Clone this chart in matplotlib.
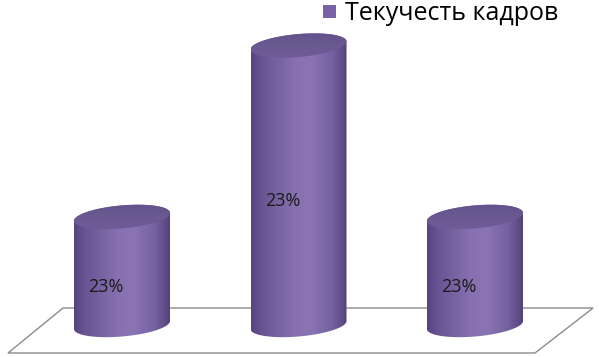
#!/usr/bin/env python3
# plot.py
# Purpose: 3D-style cylinder column chart, "Текучесть кадров".

import numpy as np
import matplotlib
matplotlib.use("Agg")
import matplotlib.pyplot as plt
from matplotlib.colors import LinearSegmentedColormap
from matplotlib.patches import Polygon

# Data
categories = ["1", "2", "3"]
heights = [9.4, 24.3, 9.4]          # column heights (chart units)
labels = ["23%", "23%", "23%"]     # data labels shown on the columns
series_name = "Текучесть кадров"

FONT = ["Open Sans", "DejaVu Sans"]

# pixel scale of the chart units
px_x = 176.5   # pixels per category step
px_y = 11.5    # pixels per value unit

fig = plt.figure(figsize=(5.99, 3.57), dpi=100)
ax = fig.add_axes([0, 0, 1, 1])
ax.axis("off")

# Floor (parallelogram)
n = len(categories)
back_y, front_y = 17 / px_y, -28 / px_y
floor = Polygon([(-0.646, front_y), (-0.334, back_y), (n - 1 + 0.669, back_y),
                 (n - 1 + 0.340, front_y)], closed=True,
                facecolor="white", edgecolor="#8c8c8c", lw=1.0, zorder=1)
ax.add_patch(floor)

body_cmap = LinearSegmentedColormap.from_list("body", [
    (0.0, "#56447e"), (0.12, "#6a5594"), (0.45, "#8670b0"),
    (0.62, "#8a74b4"), (0.85, "#7560a0"), (1.0, "#54427c")])
cap_cmap = LinearSegmentedColormap.from_list("cap", [
    (0.0, "#5f4d88"), (0.5, "#6b5992"), (1.0, "#735f9c")])

half_w = 48 / px_x
b = 11.5 / px_y      # ellipse vertical semi-axis
s = -4 / px_y        # tilt (right end higher)
t = np.linspace(0, 2 * np.pi, 200)


def ellipse_pts(cx, cy, tt):
    return np.column_stack([cx + half_w * np.cos(tt), cy + b * np.sin(tt) - s * np.cos(tt)])


grad = np.linspace(0, 1, 256).reshape(1, -1)

for i, h in enumerate(heights):
    cx = i
    # body: back half of the top ellipse (hidden by the cap) + front half of the base
    top_back = ellipse_pts(cx, h, np.linspace(0, np.pi, 100))
    bottom_front = ellipse_pts(cx, 0, np.linspace(np.pi, 2 * np.pi, 100))
    body = Polygon(np.vstack([bottom_front, top_back]), closed=True,
                   facecolor="none", edgecolor="none", zorder=3)
    ax.add_patch(body)
    im = ax.imshow(grad, cmap=body_cmap, aspect="auto", zorder=3,
                   extent=[cx - half_w, cx + half_w, -2 * b, h + 2 * b])
    im.set_clip_path(body)

    cap = Polygon(ellipse_pts(cx, h, t), closed=True, facecolor="none",
                  edgecolor="none", zorder=4)
    ax.add_patch(cap)
    cim = ax.imshow(np.linspace(0, 1, 64).reshape(-1, 1), cmap=cap_cmap, aspect="auto",
                    zorder=4, origin="upper",
                    extent=[cx - half_w, cx + half_w, h - 2 * b, h + 2 * b])
    cim.set_clip_path(cap)

    ax.text(cx - 16 / px_x, h / 2 - 16 / px_y, labels[i], ha="center", va="center",
            fontsize=13, color="#1a1a1a", family=FONT, zorder=5)

ax.set_xlim(-122 / px_x, (599 - 122) / px_x)
ax.set_ylim(-32 / px_y, (357 - 32) / px_y)

# Legend
fig.patches.append(plt.Rectangle((323 / 599, 1 - 18 / 357), 13 / 599, 13 / 357,
                                 transform=fig.transFigure, facecolor="#7a62a6",
                                 edgecolor="none"))
fig.text(345 / 599, 1 - 14 / 357, series_name, ha="left", va="center",
         fontsize=18, color="black", family=FONT)

fig.savefig("out.png", dpi=100)
